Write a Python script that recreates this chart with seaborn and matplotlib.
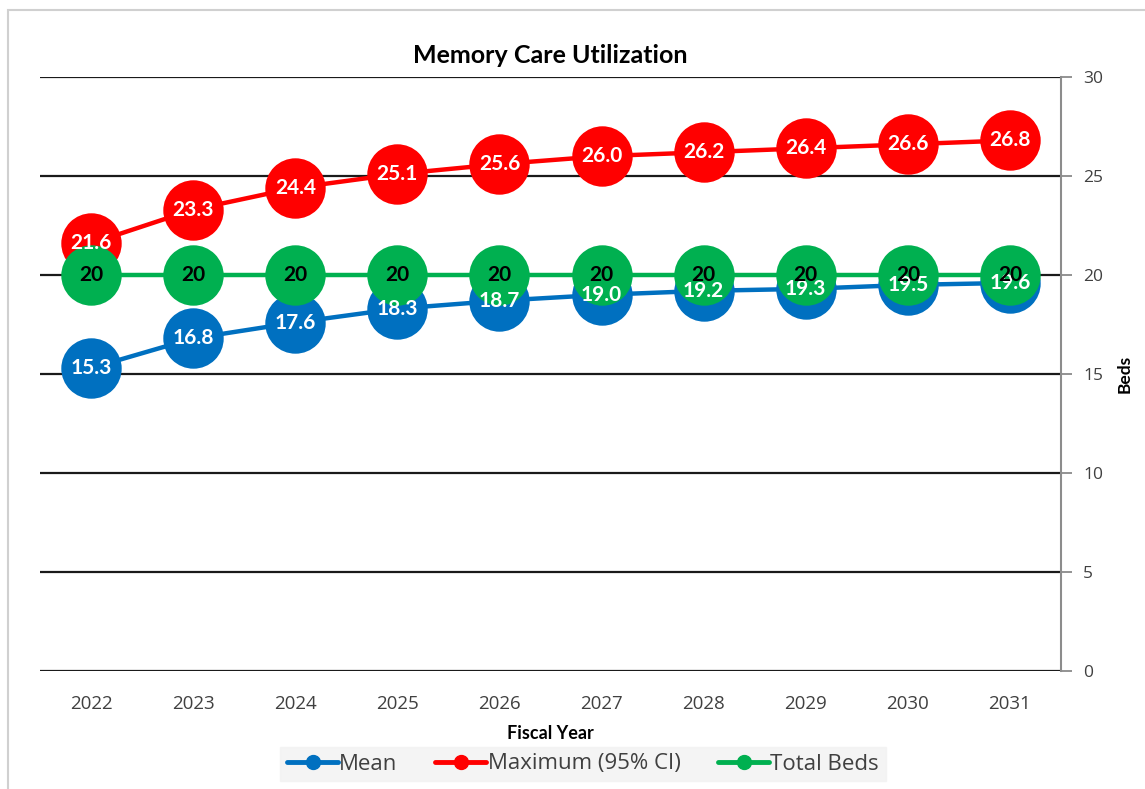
import numpy as np
import pandas as pd
import matplotlib
matplotlib.use("Agg")
import matplotlib.pyplot as plt
import seaborn as sns
from matplotlib.lines import Line2D
from matplotlib.patches import Rectangle

years = ["2022", "2023", "2024", "2025", "2026", "2027", "2028", "2029", "2030", "2031"]
mean_vals = [15.3, 16.8, 17.6, 18.3, 18.7, 19.0, 19.2, 19.3, 19.5, 19.6]
max_vals = [21.6, 23.3, 24.4, 25.1, 25.6, 26.0, 26.2, 26.4, 26.6, 26.8]
total_beds = [20, 20, 20, 20, 20, 20, 20, 20, 20, 20]
series_names = ["Mean", "Maximum (95% CI)", "Total Beds"]
y_ticks = [0, 5, 10, 15, 20, 25, 30]

colors = {"Mean": "#0070C0", "Maximum (95% CI)": "#FF0000", "Total Beds": "#00B050"}
label_colors = {"Mean": "white", "Maximum (95% CI)": "white", "Total Beds": "black"}

sns.set_theme(style="white")
plt.rcParams["font.family"] = ["Lato", "DejaVu Sans"]

fig = plt.figure(figsize=(11.45, 7.89), dpi=100)
ax = fig.add_axes([40/1145, 1-671/789, (1061-40)/1145, (671-77)/789])

x = np.arange(len(years))
data = {"Mean": mean_vals, "Maximum (95% CI)": max_vals, "Total Beds": total_beds}

for name in series_names:
    df = pd.DataFrame({"x": x, "y": data[name]})
    sns.lineplot(data=df, x="x", y="y", ax=ax, color=colors[name], linewidth=3.2,
                 marker="o", markersize=43.5, markeredgewidth=0, legend=False, zorder=3)

fmt = {"Mean": "{:.1f}", "Maximum (95% CI)": "{:.1f}", "Total Beds": "{:d}"}
for name in series_names:
    for xi, v in zip(x, data[name]):
        ax.text(xi, v, fmt[name].format(v), ha="center", va="center", fontsize=15,
                fontweight="bold", color=label_colors[name], zorder=5)

ax.set_xlim(-0.5, len(years) - 0.5)
ax.set_ylim(0, 30)
ax.set_xticks(x)
ax.set_xticklabels(years, fontsize=13.5, color="#404040", family="Open Sans")
ax.yaxis.tick_right()
ax.yaxis.set_label_position("right")
ax.set_yticks(y_ticks)
ax.set_yticklabels([str(t) for t in y_ticks], fontsize=12.5, color="#404040", family="Open Sans")
ax.tick_params(axis="y", which="both", right=True, length=8, width=1.2, color="#808080", pad=8)
ax.tick_params(axis="x", length=0, pad=17)

for t in y_ticks:
    ax.axhline(t, color="#1a1a1a", linewidth=1.6, zorder=1)

for s in ["top", "left", "bottom"]:
    ax.spines[s].set_visible(False)
ax.spines["right"].set_color("#8c8c8c")
ax.spines["right"].set_linewidth(1.5)

ax.set_xlabel("Fiscal Year", fontsize=13, fontweight="bold", labelpad=9, color="black")
ax.set_ylabel("Beds", fontsize=12.5, fontweight="bold", labelpad=10, color="black")
ax.set_title("Memory Care Utilization", fontsize=18, fontweight="bold", pad=10, color="black")

handles = [Line2D([0], [0], color=colors[n], lw=3.5, marker="o", markersize=10) for n in series_names]
leg = fig.legend(handles, series_names, loc="center", bbox_to_anchor=(583/1145, 1-764/789),
                 ncol=3, frameon=True, fontsize=16, handlelength=2.3, handletextpad=0.05,
                 columnspacing=1.7, borderpad=0.3, borderaxespad=0)
leg.get_frame().set_facecolor("#f2f2f2")
leg.get_frame().set_edgecolor("#f2f2f2")
leg.get_frame().set_boxstyle("square", pad=0)
for t in leg.get_texts():
    t.set_color("#404040")
    t.set_family(["Open Sans", "DejaVu Sans"])

fig.patches.append(Rectangle((8/1145, -0.05), 1.2, 0.05 + 1 - 10/789, transform=fig.transFigure,
                             fill=False, edgecolor="#d0d0d0", linewidth=1.5))

fig.savefig("out.png", dpi=100)
